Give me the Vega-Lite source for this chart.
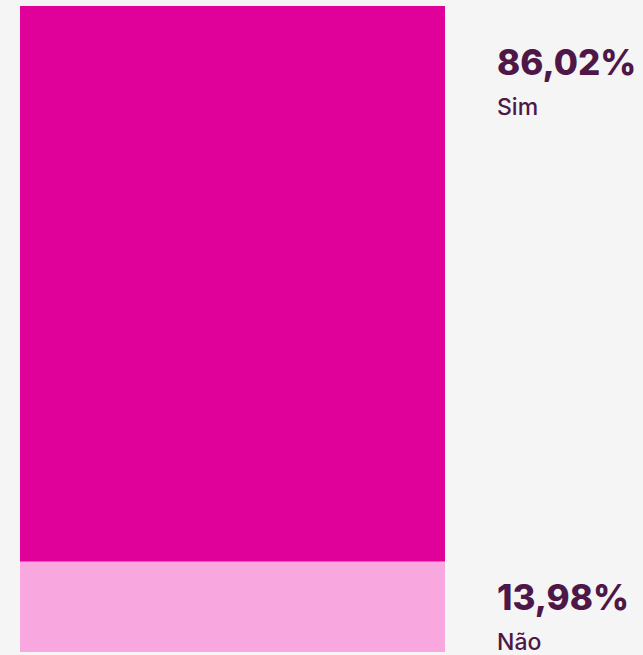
{
  "$schema": "https://vega.github.io/schema/vega-lite/v6.json",
  "width": 425,
  "height": 646,
  "autosize": {"type": "none"},
  "padding": {"left": 20, "top": 6, "right": 198, "bottom": 3},
  "background": "#f5f5f5",
  "config": {"view": {"stroke": null}},
  "data": {"values": [
    {"resposta": "Sim", "pct": 86.02, "label": "86,02%"},
    {"resposta": "Não", "pct": 13.98, "label": "13,98%"}
  ]},
  "transform": [
    {"stack": "pct", "groupby": [], "as": ["lo", "hi"], "sort": [{"field": "resposta", "order": "ascending"}]}
  ],
  "layer": [
    {
      "mark": {"type": "bar"},
      "encoding": {
        "x": {"value": 0},
        "x2": {"value": "width"},
        "y": {"field": "lo", "type": "quantitative", "scale": {"domain": [0, 100]}, "axis": null},
        "y2": {"field": "hi"},
        "color": {"field": "resposta", "type": "nominal", "scale": {"domain": ["Sim", "Não"], "range": ["#e0009a", "#f9a8df"]}, "legend": null}
      }
    },
    {
      "transform": [{"filter": "datum.resposta === 'Sim'"}],
      "mark": {"type": "text", "align": "left", "baseline": "alphabetic", "dx": 52, "dy": 69, "font": "Inter", "fontWeight": 800, "fontSize": 35, "color": "#4f1747"},
      "encoding": {"x": {"value": "width"}, "y": {"field": "hi", "type": "quantitative"}, "text": {"field": "label"}}
    },
    {
      "transform": [{"filter": "datum.resposta === 'Sim'"}],
      "mark": {"type": "text", "align": "left", "baseline": "alphabetic", "dx": 52, "dy": 109, "font": "Inter", "fontWeight": 500, "fontSize": 23, "color": "#4f1747"},
      "encoding": {"x": {"value": "width"}, "y": {"field": "hi", "type": "quantitative"}, "text": {"field": "resposta"}}
    },
    {
      "transform": [{"filter": "datum.resposta === 'Não'"}],
      "mark": {"type": "text", "align": "left", "baseline": "alphabetic", "dx": 52, "dy": -42, "font": "Inter", "fontWeight": 800, "fontSize": 35, "color": "#4f1747"},
      "encoding": {"x": {"value": "width"}, "y": {"field": "lo", "type": "quantitative"}, "text": {"field": "label"}}
    },
    {
      "transform": [{"filter": "datum.resposta === 'Não'"}],
      "mark": {"type": "text", "align": "left", "baseline": "alphabetic", "dx": 52, "dy": -2, "font": "Inter", "fontWeight": 500, "fontSize": 23, "color": "#4f1747"},
      "encoding": {"x": {"value": "width"}, "y": {"field": "lo", "type": "quantitative"}, "text": {"field": "resposta"}}
    }
  ]
}
